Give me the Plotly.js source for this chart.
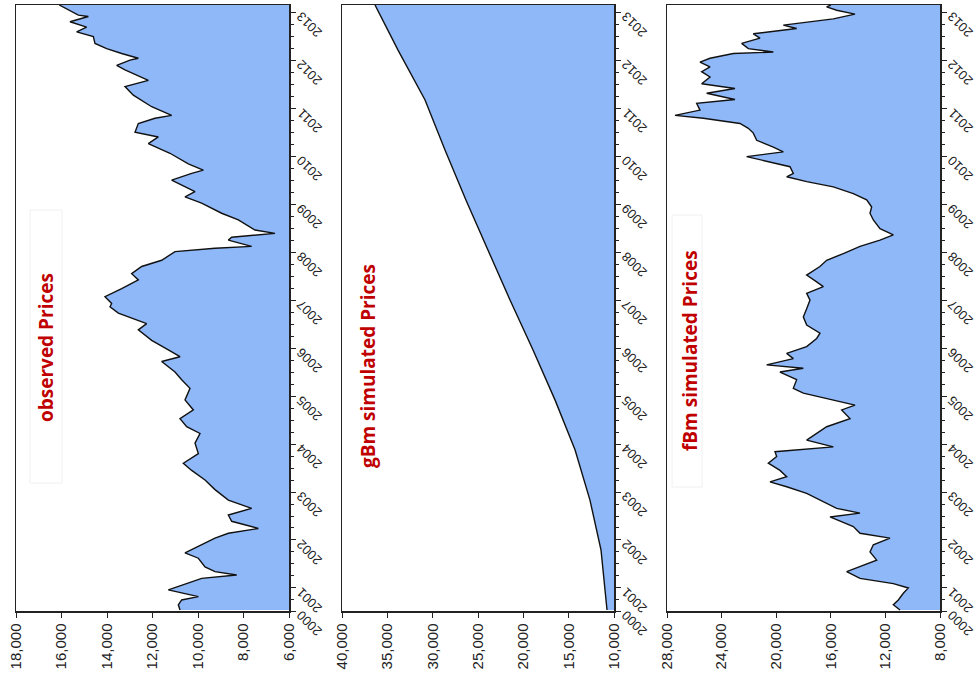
<!DOCTYPE html>
<html>
<head>
<meta charset="utf-8">
<script src="https://cdn.plot.ly/plotly-3.0.1.min.js"></script>
<style>html,body{margin:0;padding:0;background:#fff;}#chart{width:976px;height:677px;}</style>
</head>
<body>
<div id="chart"></div>
<script>
// ---- data (decimal year on the time axis, index level on the value axis) ----
const obsYears = [2000.54,2000.65,2000.75,2000.82,2000.96,2001.06,2001.20,2001.27,2001.34,2001.44,
  2001.62,2001.73,2001.90,2002.04,2002.14,2002.24,2002.39,2002.52,2002.66,2002.83,2003.05,2003.25,
  2003.45,2003.60,2003.80,2004.02,2004.22,2004.36,2004.53,2004.71,2004.92,2005.16,2005.34,
  2005.50,2005.72,2005.82,2005.96,2006.16,2006.38,2006.51,2006.73,2006.79,2006.86,2006.93,2007.07,2007.24,
  2007.42,2007.55,2007.70,2007.83,2008.01,2008.08,2008.12,2008.25,2008.31,2008.39,2008.46,2008.67,2008.81,
  2009.02,2009.15,2009.26,2009.50,2009.64,2009.71,2009.84,2010.06,2010.26,2010.40,2010.50,2010.68,
  2010.79,2010.85,2011.03,2011.27,2011.45,2011.58,2011.80,2011.89,2012.00,2012.04,2012.14,2012.24,
  2012.35,2012.49,2012.59,2012.69,2012.80,2012.91,2012.94,2013.11,2013.15];
const obsPrices = [10790,10865,10718,9985,11304,10718,9839,8300,9253,9692,
  9985,10571,9839,9253,8667,7348,8520,8667,7641,8667,9253,9692,
  10278,10645,9985,10132,9912,10498,10791,10205,10571,10352,10718,
  11011,11597,10791,11304,12037,12623,12257,13502,13648,13868,13795,14088,13355,
  12623,12916,12476,11597,11011,9253,7641,8667,8520,6615,7495,8227,8960,
  9839,10571,10132,11158,10278,9766,10425,11231,12183,11744,12769,12623,
  11890,11158,12037,12843,13209,12183,13209,13575,12989,12623,13355,14015,
  14527,14601,15333,14894,15627,14820,15260,15993,16100];

const gbmYears  = [2000.54,2001.79,2002.83,2003.88,2004.92,2005.96,2007.00,2008.04,2009.08,2010.13,2011.17,2012.21,2013.15];
const gbmPrices = [10770,11430,12650,14300,16510,18930,21470,23900,26320,28640,30840,33820,36360];

const fbmYears = [2000.54,2000.65,2000.75,2000.89,2001.00,2001.09,2001.20,2001.34,2001.58,2001.75,2001.90,
  2002.04,2002.14,2002.28,2002.48,2002.56,2002.66,2002.83,2002.97,2003.11,2003.21,2003.32,2003.45,2003.60,
  2003.74,2003.84,2003.94,2004.08,2004.22,2004.36,2004.53,2004.71,2004.81,2004.92,2005.06,2005.16,2005.34,
  2005.50,2005.58,2005.65,2005.78,2005.89,2006.03,2006.20,2006.31,2006.48,2006.65,2006.82,2007.00,2007.14,
  2007.28,2007.38,2007.52,2007.70,2007.83,2007.97,2008.12,2008.25,2008.36,2008.49,2008.67,2008.81,2008.94,
  2009.09,2009.22,2009.36,2009.47,2009.57,2009.64,2009.78,2009.91,2009.99,2010.09,2010.19,2010.33,2010.48,
  2010.58,2010.68,2010.79,2010.85,2010.96,2011.10,2011.18,2011.31,2011.41,2011.51,2011.65,2011.76,2011.86,
  2011.96,2012.04,2012.14,2012.17,2012.24,2012.35,2012.46,2012.55,2012.66,2012.73,2012.86,2012.96,2013.04,
  2013.11,2013.15];
const fbmPrices = [10930,11419,11053,10687,10320,11419,13861,14838,12640,13128,12884,
  11663,13861,14349,16059,13861,15570,16792,17768,19233,20455,19233,19722,20577,
  19966,20088,15815,17768,17036,16303,14594,15204,14227,15815,18013,18745,18501,
  19722,18013,20699,18745,19233,17768,17036,16792,17768,18013,17768,17524,17768,
  16547,17036,17768,16797,16303,15082,13861,12396,11419,12396,12884,13128,13006,
  13373,14349,15815,17768,19233,18745,18989,20943,22164,19478,20210,21431,21676,
  22042,22652,25338,27414,25583,25827,23019,25094,23019,25461,24850,25461,24850,
  25583,24850,23141,20210,22042,22530,21187,21676,18501,19478,15815,14227,15570,
  16303,16000];

const panelTitles = ["observed Prices", "gBm simulated Prices", "fBm simulated Prices"];
const valueRanges = [[18000, 6000], [40000, 10000], [28000, 8000]];
const valueSteps  = [2000, 5000, 4000];
const yearRange   = [2000.52, 2013.15];
const yearTickVals = [2000.52,2001,2002,2003,2004,2005,2006,2007,2008,2009,2010,2011,2012,2013];
const yearTickText = ['2000','2001','2002','2003','2004','2005','2006','2007','2008','2009','2010','2011','2012','2013'];

// ---- layout helpers (pixel geometry) ----
const W = 976, H = 677;
const px = v => v / W, py = v => 1 - v / H;
const panelX = [[16, 289], [342, 614], [667, 940]];
const plotTop = 5, plotBottom = 611;
const FILL = '#8fb8f9';
const AX = '#222';

const series = [[obsYears, obsPrices], [gbmYears, gbmPrices], [fbmYears, fbmPrices]];
const traces = series.map((s, i) => ({
  type: 'scatter', mode: 'lines',
  x: s[1], y: s[0],
  xaxis: i === 0 ? 'x' : 'x' + (i + 1),
  yaxis: i === 0 ? 'y' : 'y' + (i + 1),
  fill: 'tozerox', fillcolor: FILL,
  line: {color: '#111', width: 1.4},
  hoverinfo: 'skip'
}));

const layout = {
  width: W, height: H,
  margin: {l: 0, r: 0, t: 0, b: 0},
  paper_bgcolor: '#fff', plot_bgcolor: '#fff',
  showlegend: false,
  font: {family: '"Liberation Sans", Arial, sans-serif', color: AX},
  annotations: [], shapes: []
};
const titleX = [46, 368, 690];
const titleY = [348, 366, 351];
for (let i = 0; i < 3; i++) {
  const sx = i === 0 ? '' : String(i + 1);
  layout['xaxis' + sx] = {
    domain: [px(panelX[i][0]), px(panelX[i][1])],
    range: valueRanges[i], anchor: 'y' + sx,
    dtick: valueSteps[i], tick0: 0, tickformat: ',',
    tickangle: -90, ticks: 'outside', ticklen: 5, tickwidth: 1, tickcolor: AX,
    showline: true, mirror: true, linecolor: AX, linewidth: 1.5,
    showgrid: false, zeroline: false,
    tickfont: {size: 15, color: AX}
  };
  layout['yaxis' + sx] = {
    domain: [py(plotBottom), py(plotTop)],
    range: yearRange, anchor: 'x' + sx, side: 'right',
    tickmode: 'array', tickvals: yearTickVals, ticktext: yearTickText,
    tickangle: -135, ticks: 'outside', ticklen: 5, tickwidth: 1, tickcolor: AX,
    ticklabelstandoff: 20, ticklabelshift: 26, ticklabeloverflow: 'allow',
    minor: {tickmode: 'linear', tick0: 2001, dtick: 0.25, ticks: 'outside', ticklen: 3, tickcolor: AX},
    showline: true, mirror: true, linecolor: AX, linewidth: 1.5,
    showgrid: false, zeroline: false,
    tickfont: {size: 13, color: AX}
  };
  layout.annotations.push({
    xref: 'paper', yref: 'paper', x: px(titleX[i]), y: py(titleY[i]),
    text: '<b>' + panelTitles[i] + '</b>', showarrow: false, textangle: -90,
    font: {family: '"Open Sans", "Noto Sans", sans-serif', size: 19, color: '#c00000'},
    xanchor: 'center', yanchor: 'middle'
  });
}
// faint text-box outlines behind the labels
[[30, 62, 210, 483], [672, 702, 215, 487]].forEach(b => layout.shapes.push({
  type: 'rect', xref: 'paper', yref: 'paper', layer: 'below',
  x0: px(b[0]), x1: px(b[1]), y0: py(b[3]), y1: py(b[2]),
  line: {color: '#f0f0f0', width: 1}
}));

Plotly.newPlot('chart', traces, layout, {staticPlot: true});
</script>
</body>
</html>
